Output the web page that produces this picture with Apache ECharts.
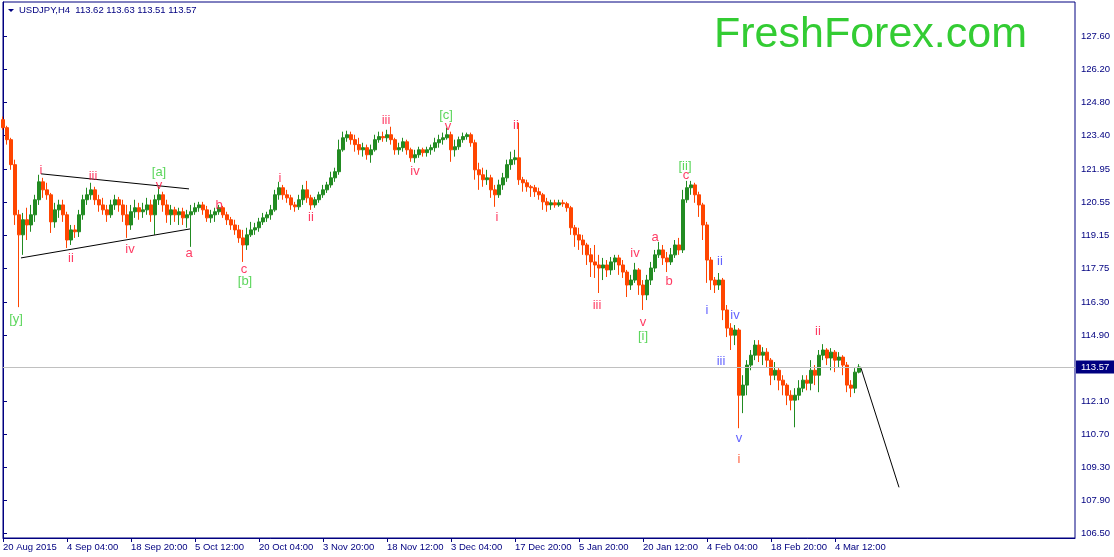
<!DOCTYPE html>
<html><head><meta charset="utf-8">
<script src="https://cdn.jsdelivr.net/npm/echarts@6/dist/echarts.min.js"></script>
<style>html,body{margin:0;padding:0;background:#fff}#c{width:1114px;height:557px}</style>
</head><body><div id="c"></div>
<script>
// ---- data ----
const xTickLabels = ['20 Aug 2015','4 Sep 04:00','18 Sep 20:00','5 Oct 12:00','20 Oct 04:00','3 Nov 20:00','18 Nov 12:00','3 Dec 04:00','17 Dec 20:00','5 Jan 20:00','20 Jan 12:00','4 Feb 04:00','18 Feb 20:00','4 Mar 12:00'];
const yTickLabels = ['106.50','107.90','109.30','110.70','112.10','114.90','116.30','117.75','119.15','120.55','121.95','123.40','124.80','126.20','127.60'];
const lastPrice = 113.57;
const titleText = 'USDJPY,H4  113.62 113.63 113.51 113.57';
const brandText = 'FreshForex.com';
// [open, close, low, high]
const candles = [
[124.07,123.73,123.64,124.20],[123.73,123.22,123.01,123.81],[123.22,122.16,121.94,123.30],[122.16,120.03,119.60,122.37],
[120.03,119.18,116.11,120.24],[119.18,119.82,118.33,120.11],[119.82,119.60,118.96,120.33],[119.60,120.03,119.31,120.45],
[120.03,120.67,119.73,120.88],[120.67,121.43,120.45,121.73],[121.43,121.09,120.75,121.60],[121.09,120.88,120.67,121.39],
[120.88,119.73,119.26,120.96],[119.73,120.24,119.48,120.54],[120.24,120.45,119.90,120.67],[120.45,120.03,119.73,120.67],
[120.03,118.96,118.62,120.16],[118.96,119.39,118.75,119.60],[119.39,119.31,119.05,119.60],[119.31,120.03,119.09,120.24],
[120.03,120.67,119.82,120.88],[120.67,120.88,120.45,121.18],[120.88,121.09,120.67,121.39],[121.09,120.67,120.45,121.22],
[120.67,120.45,120.16,120.88],[120.45,120.24,120.03,120.75],[120.24,120.03,119.73,120.45],[120.03,120.45,119.90,120.67],
[120.45,120.67,120.24,120.88],[120.67,120.45,120.16,120.79],[120.45,120.03,119.73,120.67],[120.03,119.60,119.05,120.45],
[119.60,120.16,119.39,120.45],[120.16,120.33,119.90,120.67],[120.33,120.16,119.82,120.54],[120.16,120.24,119.90,120.54],
[120.24,120.45,120.03,120.75],[120.45,120.03,119.73,120.67],[120.03,120.67,119.18,120.88],[120.67,120.88,120.45,121.22],
[120.88,120.45,120.16,121.01],[120.45,120.03,119.69,120.67],[120.03,120.24,119.60,120.45],[120.24,120.03,119.73,120.37],
[120.03,120.16,119.60,120.33],[120.16,119.90,119.60,120.33],[119.90,120.03,119.48,120.24],[120.03,120.16,118.67,120.45],
[120.16,120.33,120.03,120.54],[120.33,120.45,120.16,120.58],[120.45,120.24,120.03,120.58],[120.24,119.90,119.73,120.41],
[119.90,120.03,119.69,120.24],[120.03,120.16,119.73,120.33],[120.16,120.33,120.03,120.45],[120.33,120.03,119.90,120.41],
[120.03,119.82,119.60,120.16],[119.82,119.60,119.39,119.94],[119.60,119.39,119.18,119.82],[119.39,119.05,118.84,119.60],
[119.05,118.75,118.03,119.39],[118.75,119.18,118.54,119.48],[119.18,119.39,119.09,119.73],[119.39,119.48,119.18,119.69],
[119.48,119.73,119.31,119.90],[119.73,119.90,119.60,120.11],[119.90,120.03,119.73,120.16],[120.03,120.24,119.82,120.45],
[120.24,120.88,120.16,121.09],[120.88,121.18,120.67,121.43],[121.18,120.88,120.67,121.30],[120.88,120.75,120.54,121.09],
[120.75,120.45,120.24,120.88],[120.45,120.37,120.16,120.58],[120.37,120.67,120.24,120.88],[120.67,121.09,120.45,121.30],
[121.09,120.75,120.54,121.47],[120.75,120.45,120.24,120.88],[120.45,120.67,120.33,120.79],[120.67,120.88,120.54,121.01],
[120.88,121.09,120.75,121.30],[121.09,121.30,120.96,121.43],[121.30,121.60,121.18,121.86],[121.60,121.86,121.43,122.03],
[121.86,122.79,121.73,123.22],[122.79,123.30,122.71,123.56],[123.30,123.43,123.13,123.60],[123.43,123.22,123.01,123.56],
[123.22,123.01,122.71,123.43],[123.01,122.79,122.58,123.30],[122.79,122.88,122.50,123.09],[122.88,122.58,122.37,123.01],
[122.58,122.79,122.24,123.01],[122.79,123.22,122.71,123.43],[123.22,123.35,123.09,123.56],[123.35,123.30,123.13,123.56],
[123.30,123.43,123.13,123.64],[123.43,123.22,123.01,123.77],[123.22,122.79,122.58,123.30],[122.79,122.88,122.58,123.09],
[122.88,123.13,122.71,123.30],[123.13,122.79,122.58,123.22],[122.79,122.45,122.28,122.88],[122.45,122.58,122.24,122.79],
[122.58,122.79,122.45,122.92],[122.79,122.67,122.50,122.88],[122.67,122.79,122.50,122.92],[122.79,122.88,122.58,123.01],
[122.88,123.09,122.71,123.30],[123.09,123.22,122.88,123.43],[123.22,123.30,123.01,123.52],[123.30,123.43,123.22,123.73],
[123.43,122.79,122.28,123.56],[122.79,122.92,122.50,123.22],[122.92,123.22,122.79,123.35],[123.22,123.35,123.09,123.52],
[123.35,123.43,123.22,123.52],[123.43,123.09,122.92,123.52],[123.09,121.94,121.52,123.22],[121.94,121.73,121.09,122.24],
[121.73,121.52,121.22,122.03],[121.52,121.60,121.30,121.94],[121.60,121.09,120.75,121.73],[121.09,120.88,120.37,121.30],
[120.88,121.30,120.75,121.52],[121.30,121.60,121.09,121.81],[121.60,122.16,121.43,122.37],[122.16,122.37,121.94,122.71],
[122.37,122.45,122.16,122.79],[122.45,121.52,121.30,123.94],[121.52,121.39,121.01,121.64],[121.39,121.22,121.01,121.52],
[121.22,121.18,120.79,121.30],[121.18,121.01,120.79,121.30],[121.01,120.88,120.67,121.18],[120.88,120.58,120.24,120.96],
[120.58,120.45,120.16,120.75],[120.45,120.54,120.24,120.67],[120.54,120.45,120.33,120.67],[120.45,120.54,120.37,120.67],
[120.54,120.50,120.37,120.67],[120.50,120.33,120.16,120.58],[120.33,119.48,119.18,120.41],[119.48,119.18,118.67,119.60],
[119.18,118.96,118.54,119.48],[118.96,118.75,118.33,119.18],[118.75,118.33,117.90,118.84],[118.33,118.03,117.39,118.62],
[118.03,117.90,117.35,118.75],[117.90,117.77,116.71,118.33],[117.77,117.90,117.26,118.20],[117.90,117.69,117.39,118.11],
[117.69,118.03,117.48,118.24],[118.03,118.20,117.69,118.33],[118.20,117.90,117.48,118.33],[117.90,117.60,117.35,118.11],
[117.60,117.05,116.54,117.69],[117.05,117.26,116.84,117.48],[117.26,117.69,117.14,117.99],[117.69,117.05,116.63,117.77],
[117.05,116.63,115.99,117.26],[116.63,117.26,116.41,117.48],[117.26,117.77,117.05,118.03],[117.77,118.33,117.60,118.54],
[118.33,118.54,118.20,118.88],[118.54,118.20,117.90,118.75],[118.20,118.03,117.60,118.45],[118.03,118.33,117.90,118.62],
[118.33,118.75,118.20,118.96],[118.75,118.54,118.33,119.05],[118.54,120.67,118.41,121.09],[120.67,121.18,120.54,121.47],
[121.18,121.30,120.88,121.47],[121.30,120.88,120.54,121.39],[120.88,120.45,119.94,121.01],[120.45,119.60,118.96,120.54],
[119.60,118.11,117.14,119.73],[118.11,117.26,116.84,118.24],[117.26,117.05,116.71,117.39],[117.05,117.26,116.84,117.56],
[117.26,115.99,115.56,117.35],[115.99,115.22,114.84,116.20],[115.22,114.92,114.29,115.43],[114.92,115.14,114.50,115.35],
[115.14,112.37,110.97,115.22],[112.37,112.80,111.61,113.22],[112.80,113.65,112.37,113.86],[113.65,114.07,113.43,114.29],
[114.07,114.50,113.86,114.71],[114.50,114.07,113.78,114.71],[114.07,114.20,113.65,114.41],[114.20,113.86,113.56,114.37],
[113.86,113.22,112.80,113.95],[113.22,113.43,113.01,113.78],[113.43,113.01,112.58,113.52],[113.01,112.80,112.37,113.22],
[112.80,112.37,111.95,112.88],[112.37,112.16,111.73,112.58],[112.16,112.37,111.01,112.67],[112.37,112.67,112.16,113.01],
[112.67,113.01,112.50,113.22],[113.01,112.88,112.58,113.22],[112.88,113.43,112.58,113.86],[113.43,113.22,112.80,113.65],
[113.22,114.07,112.50,114.29],[114.07,114.29,113.86,114.54],[114.29,113.95,113.65,114.37],[113.95,114.20,113.43,114.37],
[114.20,113.86,113.35,114.29],[113.86,113.99,113.56,114.20],[113.99,113.65,113.22,114.07],[113.65,112.80,112.50,113.78],
[112.80,112.67,112.29,113.01],[112.67,113.35,112.46,113.52],[113.35,113.57,113.30,113.69]
];
// wave labels: [bar position, price, text, colour group]
const waveLabels = [
[3.25,115.60,'[y]','g'],[9.5,121.90,'i','r'],[22.5,121.64,'iii','r'],[39,121.81,'[a]','g'],[39,121.26,'v','r'],
[17,118.16,'ii','r'],[31.75,118.54,'iv','r'],[46.5,118.37,'a','r'],[54,120.41,'b','r'],[60.25,117.73,'c','r'],
[60.5,117.22,'[b]','g'],[69.25,121.56,'i','r'],[77,119.90,'ii','r'],[95.75,124.03,'iii','r'],[103,121.86,'iv','r'],
[110.75,124.24,'[c]','g'],[111.25,123.77,'v','r'],[128.25,123.81,'ii','r'],[123.5,119.94,'i','r'],[148.5,116.20,'iii','r'],
[158,118.41,'iv','r'],[160,115.48,'v','r'],[160,114.88,'[i]','g'],[163,119.09,'a','r'],[166.5,117.22,'b','r'],
[170.5,122.07,'[ii]','g'],[170.75,121.69,'c','r'],[176,115.99,'i','b'],[179.25,118.07,'ii','b'],[183,115.77,'iv','b'],
[179.5,113.82,'iii','b'],[184,110.54,'v','b'],[184,109.65,'i','o'],[203.75,115.09,'ii','r']
];
const triangleUpper = [[9.5,121.77],[46.5,121.13]];
const triangleLower = [[4.5,118.20],[46.75,119.43]];
const projection = [[214.5,113.52],[224,108.46]];

// ---- chart ----
const NAVY = '#000080';
const AXFONT = '"Liberation Sans",Arial,sans-serif';
const LBLFONT = '"Liberation Sans",Arial,sans-serif';
const AXSIZE = 9.5;
const NCAT = 269, STEP = 16;
const categories = Array.from({length: NCAT}, (_, i) => String(i));
const showTick = (i) => i % STEP === 0 && i / STEP < xTickLabels.length;
const yVals = yTickLabels.map(Number);
const groupColor = {r: '#ff0a3c', g: '#33cc33', b: '#3b3bff', o: '#ff3a10'};

const chart = echarts.init(document.getElementById('c'), null, {renderer: 'canvas'});
chart.setOption({
  animation: false,
  backgroundColor: '#ffffff',
  grid: {left: 3, top: 2, right: 39, bottom: 19, show: true, borderColor: NAVY, borderWidth: 1, containLabel: false},
  xAxis: [{
    type: 'category', data: categories, boundaryGap: false,
    axisLine: {show: true, lineStyle: {color: NAVY, width: 1}},
    axisTick: {show: true, length: 4, interval: (i) => showTick(i), lineStyle: {color: NAVY}},
    axisLabel: {show: true, interval: (i) => showTick(i), formatter: (v, i) => xTickLabels[Math.round(Number(v) / STEP)] || '',
      align: 'left', margin: 4, color: NAVY, fontSize: AXSIZE, fontFamily: AXFONT, hideOverlap: false},
    splitLine: {show: false}
  }, {
    type: 'value', min: 0, max: NCAT - 1, show: false
  }],
  yAxis: {
    type: 'value', position: 'right', min: 106.309, max: 129.065,
    axisLine: {show: true, lineStyle: {color: NAVY, width: 1}},
    axisTick: {show: true, length: 4, customValues: yVals, lineStyle: {color: NAVY}},
    axisLabel: {show: true, customValues: yVals, formatter: (v) => v.toFixed(2), margin: 6,
      color: NAVY, fontSize: AXSIZE, fontFamily: AXFONT},
    splitLine: {show: false}
  },
  graphic: [
    {type: 'polygon', shape: {points: [[8, 9], [14, 9], [11, 12]]}, style: {fill: NAVY}, z: 100},
    {type: 'text', x: 19, y: 10, style: {text: titleText, fill: NAVY, font: AXSIZE + 'px ' + AXFONT, verticalAlign: 'middle'}, z: 100},
    {type: 'text', x: 714, y: 35, style: {text: brandText, fill: '#33cc33', font: '43px ' + LBLFONT, verticalAlign: 'middle'}, z: 100}
  ],
  series: [{
    type: 'candlestick', data: candles, barWidth: 3,
    itemStyle: {color: '#228B22', color0: '#FF4500', borderColor: '#228B22', borderColor0: '#FF4500', borderWidth: 1},
    markLine: {
      symbol: ['none', 'none'], silent: true, animation: false,
      lineStyle: {color: '#c0c0c0', width: 1, type: 'solid'},
      label: {show: true, position: 'end', distance: 1, formatter: lastPrice.toFixed(2), backgroundColor: NAVY,
        color: '#ffffff', padding: [2, 5, 1, 5], fontSize: AXSIZE, fontFamily: AXFONT},
      data: [{yAxis: lastPrice}]
    }
  }, {
    type: 'line', xAxisIndex: 1, data: triangleUpper, symbol: 'none', lineStyle: {color: '#000', width: 1}, z: 5
  }, {
    type: 'line', xAxisIndex: 1, data: triangleLower, symbol: 'none', lineStyle: {color: '#000', width: 1}, z: 5
  }, {
    type: 'line', xAxisIndex: 1, data: projection, symbol: 'none', lineStyle: {color: '#000', width: 1}, z: 5
  }, {
    type: 'scatter', xAxisIndex: 1, symbolSize: 0, z: 10,
    data: waveLabels.map(w => ({value: [w[0], w[1]], name: w[2],
      label: {color: groupColor[w[3]]}})),
    label: {show: true, position: 'inside', formatter: (p) => p.name, fontSize: 13, fontFamily: LBLFONT}
  }]
});
</script>
</body></html>
